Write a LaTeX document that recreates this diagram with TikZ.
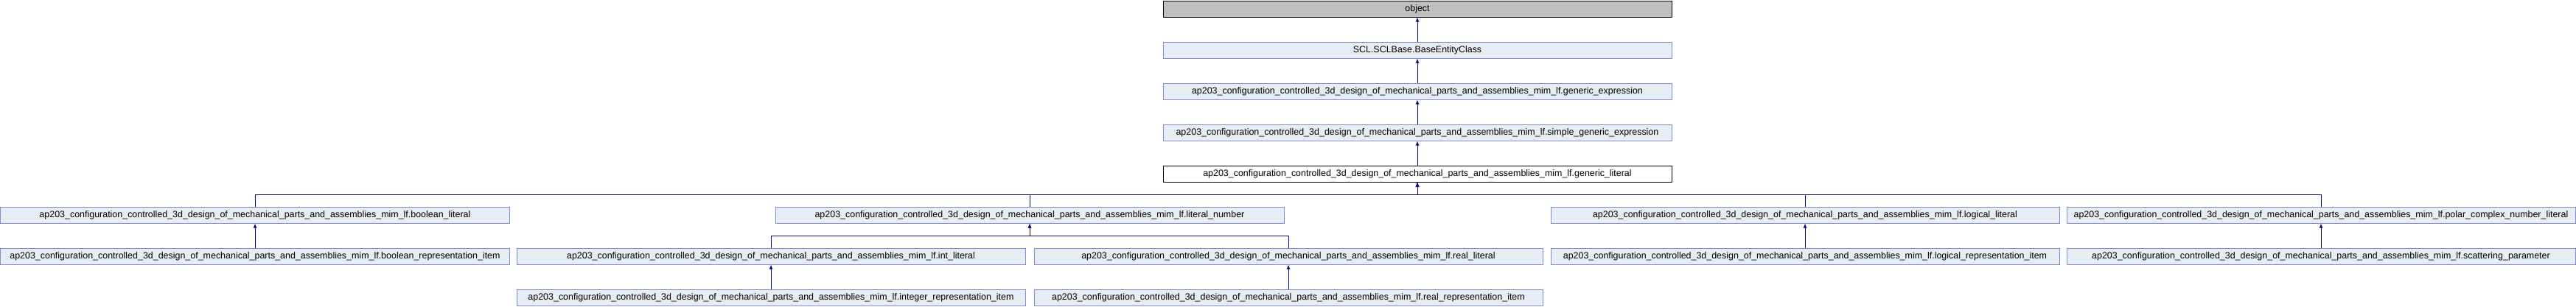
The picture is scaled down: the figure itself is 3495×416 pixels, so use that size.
\documentclass[tikz,border=0pt]{standalone}
\usepackage{fontspec}
\setmainfont{Liberation Sans}
\usetikzlibrary{arrows.meta}
\definecolor{clsfill}{RGB}{232,236,245}
\definecolor{clsedge}{RGB}{124,144,204}
\definecolor{rootfill}{RGB}{191,191,191}
\definecolor{linkcol}{RGB}{12,12,130}
\newcommand{\mimlf}{ap203\_configuration\_controlled\_3d\_design\_of\_mechanical\_parts\_and\_assemblies\_mim\_lf.}
\begin{document}
\begin{tikzpicture}[x=1bp,y=-1bp,
  cls/.style={rectangle, anchor=north west, fill=clsfill, draw=clsedge, line width=1bp,
    minimum width=690bp, minimum height=22bp, inner sep=0pt, font=\fontsize{12.5}{14}\selectfont},
  rootcls/.style={cls, fill=rootfill, draw=black},
  curcls/.style={cls, fill=white, draw=black},
  link/.style={draw=linkcol, line width=1bp, -{Latex[length=6bp,width=5bp]}}]
\useasboundingbox (0,0) rectangle (3495,416);
\node [rootcls] (obj) at (1577.5,0.5) {object};
\node [cls] (base) at (1577.5,56.5) {SCL.SCLBase.BaseEntityClass};
\node [cls] (genexpr) at (1577.5,112.5) {\mimlf generic\_expression};
\node [cls] (simplexpr) at (1577.5,168.5) {\mimlf simple\_generic\_expression};
\node [curcls] (genlit) at (1577.5,224.5) {\mimlf generic\_literal};
\node [cls] (boollit) at (0.5,280.5) {\mimlf boolean\_literal};
\node [cls] (litnum) at (1051.5,280.5) {\mimlf literal\_number};
\node [cls] (logiclit) at (2103.5,280.5) {\mimlf logical\_literal};
\node [cls] (polarlit) at (2803.5,280.5) {\mimlf polar\_complex\_number\_literal};
\node [cls] (boolrep) at (0.5,336.5) {\mimlf boolean\_representation\_item};
\node [cls] (intlit) at (700.5,336.5) {\mimlf int\_literal};
\node [cls] (reallit) at (1402.5,336.5) {\mimlf real\_literal};
\node [cls] (logicrep) at (2103.5,336.5) {\mimlf logical\_representation\_item};
\node [cls] (scatter) at (2803.5,336.5) {\mimlf scattering\_parameter};
\node [cls] (intrep) at (700.5,392.5) {\mimlf integer\_representation\_item};
\node [cls] (realrep) at (1402.5,392.5) {\mimlf real\_representation\_item};
\coordinate (litbus) at (genlit.south |- 0,264.5);
\coordinate (numbus) at (litnum.south |- 0,320.5);
\draw [link] (base) -- (obj);
\draw [link] (genexpr) -- (base);
\draw [link] (simplexpr) -- (genexpr);
\draw [link] (genlit) -- (simplexpr);
\draw [link] (boollit.north) |- (litbus) -- (genlit.south);
\draw [link] (litnum.north) |- (litbus) -- (genlit.south);
\draw [link] (logiclit.north) |- (litbus) -- (genlit.south);
\draw [link] (polarlit.north) |- (litbus) -- (genlit.south);
\draw [link] (boolrep) -- (boollit);
\draw [link] (intlit.north) |- (numbus) -- (litnum.south);
\draw [link] (reallit.north) |- (numbus) -- (litnum.south);
\draw [link] (logicrep) -- (logiclit);
\draw [link] (scatter) -- (polarlit);
\draw [link] (intrep) -- (intlit);
\draw [link] (realrep) -- (reallit);
\end{tikzpicture}
\end{document}
